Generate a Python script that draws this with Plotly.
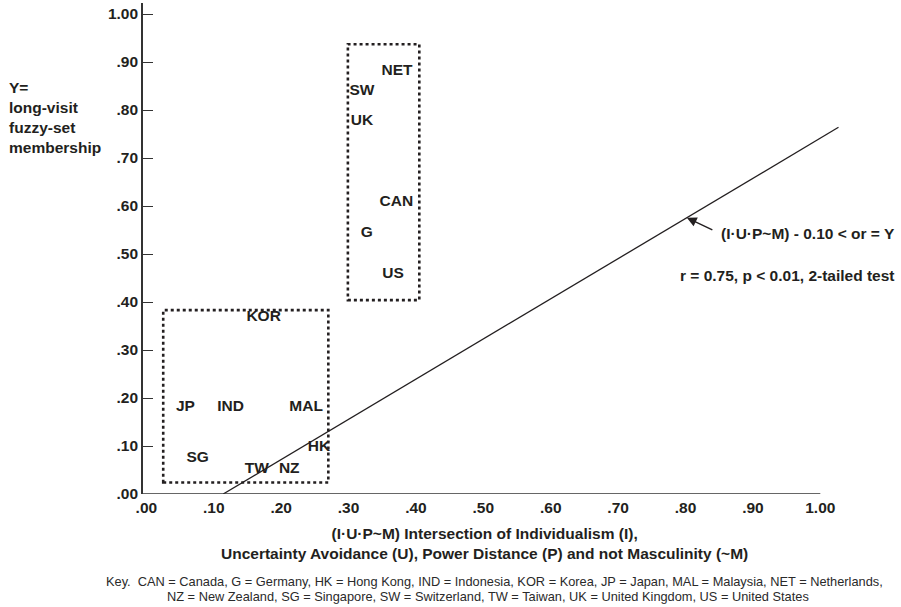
import numpy as np
import plotly.graph_objects as go

# ---------------- data ----------------
countries = ["NET", "SW", "UK", "CAN", "G", "US",
             "KOR", "JP", "IND", "MAL", "HK", "SG", "TW", "NZ"]
x_vals = [0.372, 0.320, 0.320, 0.371, 0.327, 0.366,
          0.174, 0.058, 0.125, 0.237, 0.256, 0.076, 0.164, 0.212]
y_vals = [0.882, 0.840, 0.776, 0.608, 0.543, 0.458,
          0.369, 0.180, 0.180, 0.180, 0.097, 0.074, 0.052, 0.052]

fit_x = [0.114, 1.027]
fit_y = [0.000, 0.764]

box_low = [0.025, 0.270, 0.024, 0.383]    # x0, x1, y0, y1
box_high = [0.299, 0.405, 0.404, 0.937]

tick_vals = [0.0, 0.1, 0.2, 0.3, 0.4, 0.5, 0.6, 0.7, 0.8, 0.9, 1.0]
tick_text = [".00", ".10", ".20", ".30", ".40", ".50", ".60", ".70", ".80", ".90", "1.00"]

# ---------------- layout geometry ----------------
W, H = 901, 607
ML, MR, MT, MB = 143, 47, 3, 113
PW = W - ML - MR
PH = H - MT - MB
X_RANGE = [-0.005, 1.05]


def px(xp):
    return (xp - ML) / PW


def py(yp):
    return (H - MB - yp) / PH


BOLD = "Liberation Sans, Arial, Helvetica, sans-serif"
INK = "#231f20"
FS = 15.5

fig = go.Figure()

fig.add_trace(go.Scatter(
    x=fit_x, y=fit_y, mode="lines",
    line=dict(color=INK, width=1.3), hoverinfo="skip", showlegend=False))

fig.add_trace(go.Scatter(
    x=x_vals, y=y_vals, mode="text", text=countries,
    textposition="middle center",
    textfont=dict(family=BOLD, size=FS, color=INK, weight="bold"),
    showlegend=False, cliponaxis=False))

for b in (box_low, box_high):
    fig.add_shape(type="rect", xref="x", yref="y",
                  x0=b[0], x1=b[1], y0=b[2], y1=b[3],
                  line=dict(color=INK, width=2.6, dash="dot"))

# x axis line, ending at the last tick (1.00)
fig.add_shape(type="line", xref="paper", yref="y", x0=0, y0=0,
              x1=(tick_vals[-1] - X_RANGE[0]) / (X_RANGE[1] - X_RANGE[0]), y1=0,
              line=dict(color="#333333", width=1.6))

arrow_x = 0.802
arrow_y = float(np.interp(arrow_x, fit_x, fit_y))

KEYFONT = dict(family="Liberation Sans Narrow, Arial Narrow, Liberation Sans, sans-serif",
               size=12.8, color="#2a2a2a")

annotations = [
    # arrow pointing at the line
    dict(x=arrow_x, y=arrow_y, xref="x", yref="y", text="",
         showarrow=True, ax=27, ay=13, arrowhead=2, arrowsize=1.4,
         arrowwidth=1.4, arrowcolor=INK, standoff=0),
    dict(x=px(897), y=py(233), xref="paper", yref="paper",
         text="(I·U·P~M) - 0.10 < or = Y", showarrow=False,
         xanchor="right", yanchor="middle",
         font=dict(family=BOLD, size=FS, color=INK, weight="bold")),
    dict(x=px(897), y=py(275), xref="paper", yref="paper",
         text="r = 0.75, p < 0.01, 2-tailed test", showarrow=False,
         xanchor="right", yanchor="middle",
         font=dict(family=BOLD, size=FS, color=INK, weight="bold")),
    # y title
    dict(x=px(7), y=py(77), xref="paper", yref="paper",
         text="Y=<br>long-visit<br>fuzzy-set<br>membership", showarrow=False,
         xanchor="left", yanchor="top", align="left",
         font=dict(family=BOLD, size=FS, color=INK, weight="bold")),
    # x title
    dict(x=px(484), y=py(543), xref="paper", yref="paper",
         text="(I·U·P~M) Intersection of Individualism (I),<br>"
              "Uncertainty Avoidance (U), Power Distance (P) and not Masculinity (~M)",
         showarrow=False, xanchor="center", yanchor="middle", align="center",
         font=dict(family=BOLD, size=FS, color=INK, weight="bold")),
    # key
    dict(x=px(494), y=py(581), xref="paper", yref="paper",
         text="Key.\u00a0\u00a0CAN = Canada, G = Germany, HK = Hong Kong, IND = Indonesia, "
              "KOR = Korea, JP = Japan, MAL = Malaysia, NET = Netherlands,",
         showarrow=False, xanchor="center", yanchor="middle", font=KEYFONT),
    dict(x=px(488), y=py(596), xref="paper", yref="paper",
         text="NZ = New Zealand, SG = Singapore, SW = Switzerland, TW = Taiwan, "
              "UK = United Kingdom, US = United States",
         showarrow=False, xanchor="center", yanchor="middle", font=KEYFONT),
]

fig.update_layout(
    width=W, height=H,
    margin=dict(l=ML, r=MR, t=MT, b=MB, pad=0),
    paper_bgcolor="white", plot_bgcolor="white",
    showlegend=False,
    annotations=annotations,
    xaxis=dict(range=X_RANGE, showgrid=False, zeroline=False,
               showline=False, ticks="", tickvals=tick_vals, ticktext=tick_text,
               tickfont=dict(family=BOLD, size=FS, color=INK, weight="bold"),
               ticklabelstandoff=2),
    yaxis=dict(range=[0, 1.023], showgrid=False, zeroline=False,
               showline=True, linecolor="#333333", linewidth=1.6,
               ticks="inside", ticklen=10, tickwidth=1.4, tickcolor="#333333",
               tickvals=tick_vals, ticktext=tick_text,
               tickfont=dict(family=BOLD, size=FS, color=INK, weight="bold"),
               ticklabelstandoff=0),
)

fig.write_html("out.html")
